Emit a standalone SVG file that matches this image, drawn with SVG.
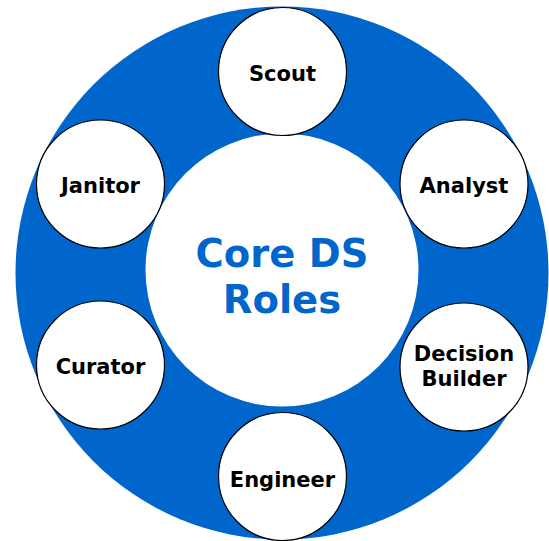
<svg xmlns="http://www.w3.org/2000/svg" width="549" height="541" viewBox="0 0 549 541">
<style>
.role{fill:#ffffff;stroke:#000000;stroke-width:1.2}
.lbl{font-family:"DejaVu Sans",Verdana,sans-serif;font-weight:bold;font-size:21px;fill:#000000;text-anchor:middle}
.core{font-family:"DejaVu Sans",Verdana,sans-serif;font-weight:bold;font-size:38.5px;fill:#0066CC;text-anchor:middle}
</style>
<rect width="549" height="541" fill="#ffffff"/>
<g id="ring"><circle cx="282" cy="273" r="266.5" fill="#0066CC"/></g>
<g id="center"><circle cx="282" cy="270" r="136.5" fill="#ffffff"/>
<text class="core" x="282" y="267">Core DS</text>
<text class="core" x="282" y="313">Roles</text></g>
<g id="connectors"></g>
<g id="scout"><circle class="role" cx="282.5" cy="71.5" r="64"/><text class="lbl" x="282.5" y="81">Scout</text></g>
<g id="analyst"><circle class="role" cx="464" cy="184" r="64"/><text class="lbl" x="464" y="193">Analyst</text></g>
<g id="decision-builder"><circle class="role" cx="464" cy="367" r="64"/><text class="lbl" x="464" y="361">Decision</text><text class="lbl" x="464" y="386">Builder</text></g>
<g id="engineer"><circle class="role" cx="282.5" cy="476.5" r="64"/><text class="lbl" x="282.5" y="487">Engineer</text></g>
<g id="curator"><circle class="role" cx="100.5" cy="365" r="64"/><text class="lbl" x="100.5" y="374">Curator</text></g>
<g id="janitor"><circle class="role" cx="100.5" cy="184" r="64"/><text class="lbl" x="100.5" y="193">Janitor</text></g>
</svg>
